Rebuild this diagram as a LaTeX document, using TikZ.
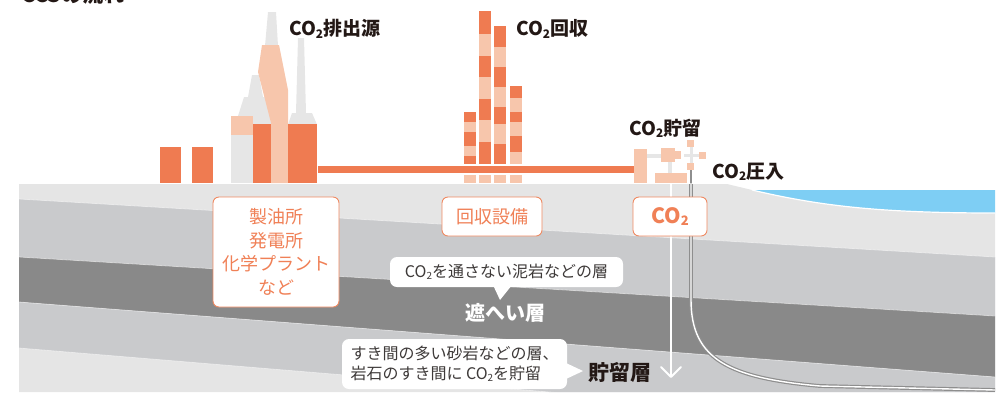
\documentclass[tikz,border=0pt]{standalone}
\usepackage{fontspec}
\setmainfont{Noto Sans CJK JP}
\usetikzlibrary{calc}
\definecolor{orangeM}{HTML}{EF7B51}
\definecolor{peach}{HTML}{F7C6AC}
\definecolor{stack}{HTML}{E6E6E6}
\definecolor{lgray}{HTML}{E5E5E5}
\definecolor{mgray}{HTML}{C9CACC}
\definecolor{dgray}{HTML}{898989}
\definecolor{sea}{HTML}{7ECEF4}
\definecolor{ink}{HTML}{231815}
\definecolor{calloutink}{HTML}{3E3A39}
\definecolor{boxline}{HTML}{EF8A62}
\definecolor{boxtext}{HTML}{F08056}
\definecolor{wellgray}{HTML}{8E8E8E}
% CO2 with a small lowered subscript
\newcommand{\COt}{CO\raisebox{-0.12em}{\scalebox{0.62}{2}}}

\begin{document}
\begin{tikzpicture}[x=1pt,y=-1pt,
  toplabel/.style={font=\fontsize{19}{21}\selectfont\bfseries, text=ink, inner sep=0pt},
  infobox/.style={draw=boxline, line width=0.9pt, fill=white, rounded corners=6pt,
    text=boxtext, align=center, inner sep=0pt},
  callout/.style={fill=white, rounded corners=7pt, text=calloutink, inner sep=0pt},
  pointer/.style={fill=white},
  layerlabel/.style={font=\fontsize{20}{22}\selectfont\bfseries, inner sep=0pt}
]
\useasboundingbox (0,0) rectangle (1000,392);
\clip (0,0) rectangle (1000,392);

% title (top edge runs off the page)
\node[anchor=base west, inner sep=0pt, font=\fontsize{21}{22}\selectfont\bfseries, text=ink]
  (title) at (21,2) {CCSの流れ};

% ---------- underground strata ----------
\begin{scope}
  \clip (19,184) -- (727,184) -- (752,190) .. controls (820,206) and (880,213) .. (995,213)
        -- (995,392) -- (19,392) -- cycle;
  \fill[lgray] (0,150) rectangle (1000,400);
  \fill[mgray] (19,199) -- (995,257) -- (995,316) -- (19,257) -- cycle;
  \fill[dgray] (19,257) -- (995,316) -- (995,377) -- (19,302) -- cycle;
  \fill[mgray] (19,302) -- (995,377) -- (995,429) -- (19,348) -- cycle;
  \draw[white, opacity=0.45, line width=0.8pt] (19,199) -- (995,257) (19,257) -- (995,316)
       (19,302) -- (995,377) (19,348) -- (995,429);
\end{scope}

% sea
\fill[sea] (752,190) -- (995,190) -- (995,213) .. controls (880,213) and (820,206) .. (752,190) -- cycle;
\draw[white, line width=1.2pt] (752,190) .. controls (820,206) and (880,213) .. (995,213);

% ---------- injection well ----------
\coordinate (wellTop) at (691,170);
\coordinate (wellGround) at (691,184);
\draw[wellgray, line width=2.6pt] (wellTop) -- (wellGround);
\draw[wellgray, line width=3.8pt] (wellGround) -- (691,300) .. controls (691,360) and (730,378) .. (820,386) -- (995,390);
\draw[white, line width=1.4pt] (691,183) -- (691,300) .. controls (691,360) and (730,378) .. (820,386) -- (995,390);

% CO2 flow arrow into the reservoir
\coordinate (flowStart) at (671,183);
\coordinate (flowEnd) at (671,377);
\draw[white, line width=1.6pt] (flowStart) -- (flowEnd);
\draw[white, line width=1.8pt, line cap=round, line join=round] (661,367) -- (flowEnd) -- (681,367);

% ---------- emission sources ----------
\fill[orangeM] (160,147) rectangle (181,183);
\fill[orangeM] (192,147) rectangle (213,183);
% grey chimney behind
\fill[stack] (252,75) -- (259,75) -- (263,97) -- (267,97) -- (272,130) -- (253,130) -- (253,116)
   -- (238,116) -- (244,97) -- (248,97) -- cycle;
\fill[stack] (231,135) rectangle (253,183);
\fill[peach] (231,116) rectangle (253,135);
% tall peach chimney with grey tip
\fill[stack] (268,12) -- (276,12) -- (278,46) -- (265,46) -- cycle;
\fill[peach] (262,45) -- (279,45) -- (288,90) -- (288,183) -- (271,183) -- (271,123) -- (258,72) -- cycle;
\fill[orangeM] (253,124) rectangle (271,183);
% right chimney
\fill[stack] (298,38) -- (304,38) -- (306,113) -- (296,113) -- cycle;
\fill[stack] (292,113) -- (312,113) -- (317,124.5) -- (288,124.5) -- cycle;
\fill[orangeM] (288,124) rectangle (317,183);

% ---------- capture towers ----------
\fill[peach] (464,112) rectangle (476,164);
\fill[peach] (479,11) rectangle (491,164);
\fill[peach] (494,26) rectangle (506,164);
\fill[peach] (510,86) rectangle (522,164);
\foreach \a/\b in {112/122,132/146,156/164} \fill[orangeM] (464,\a) rectangle (476,\b);
\foreach \a/\b in {11/34,56/77,99/120,142/164} \fill[orangeM] (479,\a) rectangle (491,\b);
\foreach \a/\b in {26/47,67/87,107/124,144/164} \fill[orangeM] (494,\a) rectangle (506,\b);
\foreach \a/\b in {86/98,112/122,136/152} \fill[orangeM] (510,\a) rectangle (522,\b);
\foreach \x in {464,479,494,510} \fill[peach] (\x,175) rectangle (\x+12,183);

% pipeline
\fill[orangeM] (318,165.5) rectangle (634,172.5);

% ---------- storage / injection plant ----------
\fill[stack] (647,154) rectangle (661,158);
\fill[stack] (668,161) rectangle (672,173);
\fill[stack] (684,154) rectangle (700,157);
\fill[stack] (689.5,146) rectangle (692.5,164);
\fill[peach] (634,149) rectangle (647,183);
\fill[peach] (661,148) rectangle (675,162);
\fill[peach] (675,151) rectangle (681,159);
\fill[peach] (655,173) rectangle (687,183);
\fill[peach] (687,140) rectangle (694,147);
\fill[peach] (699,152) rectangle (706,159);
\fill[peach] (687,163) rectangle (694,170);

% ---------- labels above ground ----------
\node[toplabel, anchor=west] (srcLabel) at (289,29) {\COt 排出源};
\node[toplabel, anchor=west] (recLabel) at (516,29) {\COt 回収};
\node[toplabel, anchor=west] (stoLabel) at (629,128) {\COt 貯留};
\node[toplabel, anchor=west] (injLabel) at (712,172) {\COt 圧入};

% ---------- facility boxes ----------
\node[infobox, minimum width=126pt, minimum height=110pt,
      font=\fontsize{18}{23.5}\selectfont] (plants) at (276,252) {製油所\\発電所\\化学プラント\\など};
\node[infobox, minimum width=100pt, minimum height=39pt,
      font=\fontsize{18}{20}\selectfont] (capture) at (492,216.5) {回収設備};
\node[infobox, minimum width=74pt, minimum height=39pt,
      font=\fontsize{21}{22}\selectfont\bfseries] (co2box) at (670,216.5) {\COt};

% ---------- callouts ----------
\node[callout, minimum width=233pt, minimum height=30pt,
      font=\fontsize{16}{17}\selectfont] (capNote) at (506.5,272) {\COt を通さない泥岩などの層};
\fill[pointer] (493,285) -- (512,285) -- (500,300) -- cycle;
\node[layerlabel, text=white] (sealLabel) at (505,313) {遮へい層};

\node[callout, minimum width=225pt, minimum height=50pt, align=left,
      font=\fontsize{16}{20}\selectfont] (resNote) at (454.5,364)
      {すき間の多い砂岩などの層、\\岩石のすき間に \COt を貯留};
\fill[pointer] (566,363) -- (566,379) -- (583,371) -- cycle;
\node[layerlabel, text=ink, font=\fontsize{21}{22}\selectfont\bfseries] (resLabel) at (620,372) {貯留層};

\end{tikzpicture}
\end{document}
